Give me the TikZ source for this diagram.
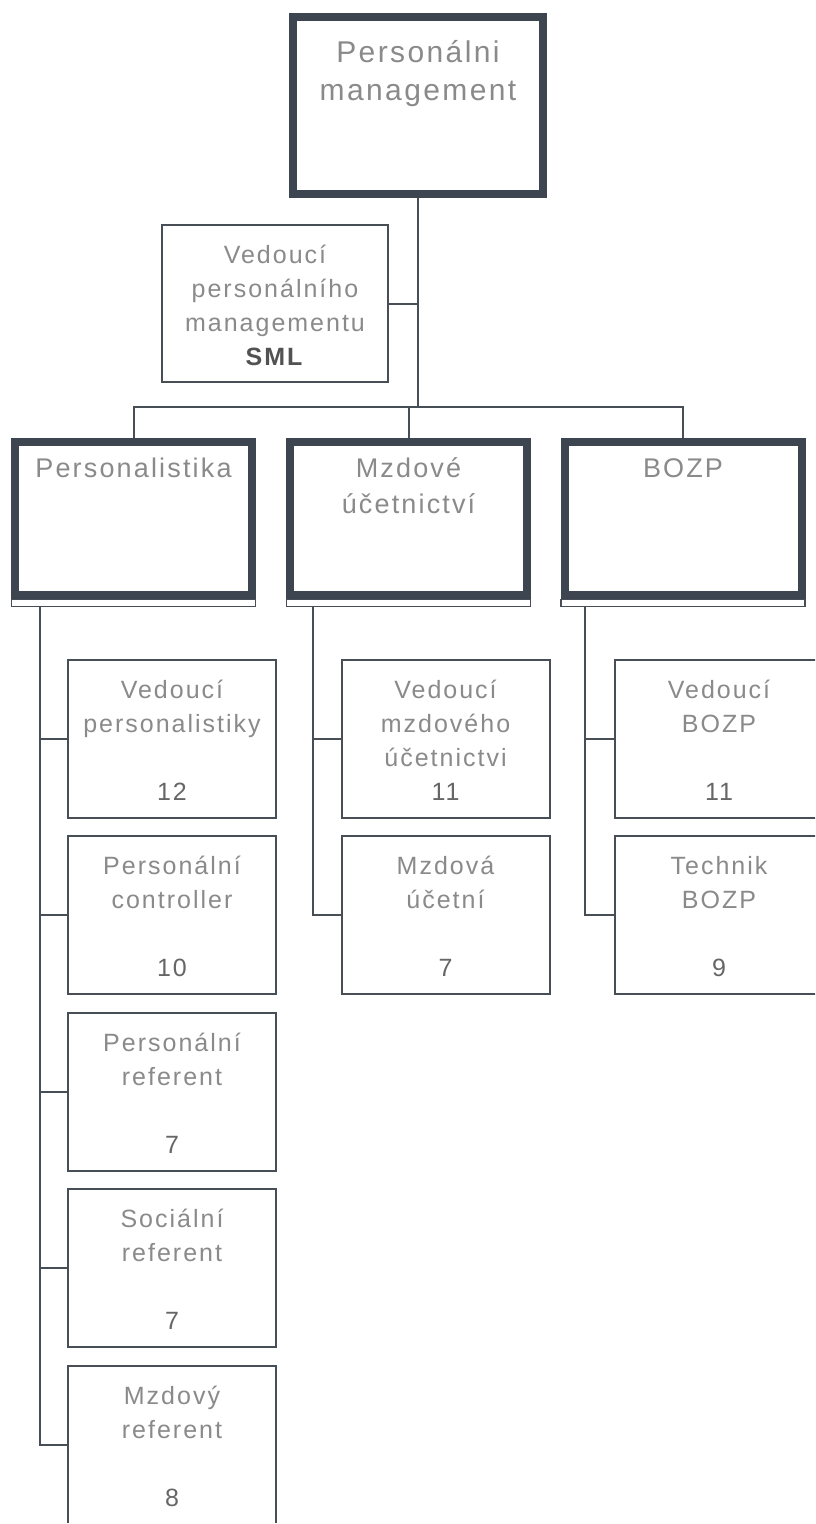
\documentclass[tikz,border=0pt]{standalone}
\usepackage{fontspec}
\setmainfont{Liberation Sans}[LetterSpace=8]
\definecolor{bd}{HTML}{3C4550}
\definecolor{ln}{HTML}{474E56}
\definecolor{tx}{HTML}{8A8A8A}
\definecolor{nm}{HTML}{666666}
\newcommand{\rows}[1]{\begin{tabular}[t]{@{}c@{}}#1\end{tabular}}
\newcommand{\num}[1]{\textcolor{nm}{#1}}
\tikzset{
  thickbox/.style={draw=bd, line width=8pt, fill=white, minimum width=237pt, minimum height=153pt, inner sep=0pt},
  topbox/.style={draw=bd, line width=8pt, fill=white, minimum width=250pt, minimum height=177pt, inner sep=0pt},
  childbox/.style={draw=ln, line width=2pt, fill=white, minimum width=208pt, minimum height=158pt, inner sep=0pt},
  smlbox/.style={draw=ln, line width=2pt, fill=white, minimum width=226pt, minimum height=157pt, inner sep=0pt},
  stripbox/.style={draw=ln, line width=1.6pt, fill=white, minimum width=244pt, minimum height=7pt, inner sep=0pt},
  conn/.style={draw=ln, line width=2pt},
  txt/.style={anchor=base, inner sep=0pt, text=tx, font=\fontsize{25}{34}\selectfont},
  bigtxt/.style={anchor=base, inner sep=0pt, text=tx, font=\fontsize{27}{36}\selectfont},
  toptxt/.style={anchor=base, inner sep=0pt, text=tx, font=\fontsize{30}{38}\selectfont},
}
\begin{document}
\begin{tikzpicture}[x=1pt,y=-1pt]
\useasboundingbox[fill=white] (0,0) rectangle (815,1524);
\clip (0,0) rectangle (815,1522.5);

% top
\node[topbox] (top) at (418,105.5) {};
\node[toptxt] (toptext) at (418,62) {\rows{Personálni\\management}};

% SML
\node[smlbox] (sml) at (275,303.5) {};
\node[txt] (smltext) at (275,263) {\rows{Vedoucí\\personálního\\managementu\\\textcolor{nm!80!black}{\textbf{SML}}}};

% strips and departments
\node[stripbox] (pstrip) at (133.5,603) {};
\node[stripbox] (mstrip) at (408.5,603) {};
\node[stripbox] (bstrip) at (683,603) {};
\node[thickbox] (pers) at (133.5,518.5) {};
\node[thickbox] (mzd) at (408.5,518.5) {};
\node[thickbox] (bozp) at (683,518.5) {};
\node[bigtxt] (perstext) at (133.5,477) {Personalistika};
\node[bigtxt] (mzdtext) at (408.5,477) {\rows{Mzdové\\účetnictví}};
\node[bigtxt] (bozptext) at (683,477) {BOZP};

% trunk and bus
\coordinate (bus) at (418,407);
\draw[conn] (top.south) -- (bus);
\draw[conn] (sml.east) -- (sml.east -| top.south);
\draw[conn] (pers.north) |- (bozp.north |- bus) -- (bozp.north);
\draw[conn] (mzd.north) -- (mzd.north |- bus);

% Personalistika children
\node[childbox] (p1) at (172,738.5) {};
\node[childbox] (p2) at (172,915) {};
\node[childbox] (p3) at (172,1091.5) {};
\node[childbox] (p4) at (172,1268) {};
\node[childbox] (p5) at (172,1444.5) {};
\node[txt] (p1t) at ([yshift=40.5pt]p1.center) {\rows{Vedoucí\\personalistiky\\ \\\num{12}}};
\node[txt] (p2t) at ([yshift=40.5pt]p2.center) {\rows{Personální\\controller\\ \\\num{10}}};
\node[txt] (p3t) at ([yshift=40.5pt]p3.center) {\rows{Personální\\referent\\ \\\num{7}}};
\node[txt] (p4t) at ([yshift=40.5pt]p4.center) {\rows{Sociální\\referent\\ \\\num{7}}};
\node[txt] (p5t) at ([yshift=40.5pt]p5.center) {\rows{Mzdový\\referent\\ \\\num{8}}};
\path (pstrip.south) ++(-93.5,0) coordinate (pv);
\draw[conn] (pv) |- (p5.west);
\foreach \c in {p1,p2,p3,p4} \draw[conn] (pv |- \c.west) -- (\c.west);

% Mzdove children
\node[childbox] (m1) at (445.5,738.5) {};
\node[childbox] (m2) at (445.5,915) {};
\node[txt] (m1t) at ([yshift=40.5pt]m1.center) {\rows{Vedoucí\\mzdového\\účetnictvi\\\num{11}}};
\node[txt] (m2t) at ([yshift=40.5pt]m2.center) {\rows{Mzdová\\účetní\\ \\\num{7}}};
\path (mstrip.south) ++(-95.5,0) coordinate (mv);
\draw[conn] (mv) |- (m2.west);
\draw[conn] (mv |- m1.west) -- (m1.west);

% BOZP children
\node[childbox] (b1) at (719,738.5) {};
\node[childbox] (b2) at (719,915) {};
\node[txt] (b1t) at ([yshift=40.5pt]b1.center) {\rows{Vedoucí\\BOZP\\ \\\num{11}}};
\node[txt] (b2t) at ([yshift=40.5pt]b2.center) {\rows{Technik\\BOZP\\ \\\num{9}}};
\path (bstrip.south) ++(-98,0) coordinate (bv);
\draw[conn] (bv) |- (b2.west);
\draw[conn] (bv |- b1.west) -- (b1.west);
\end{tikzpicture}
\end{document}
